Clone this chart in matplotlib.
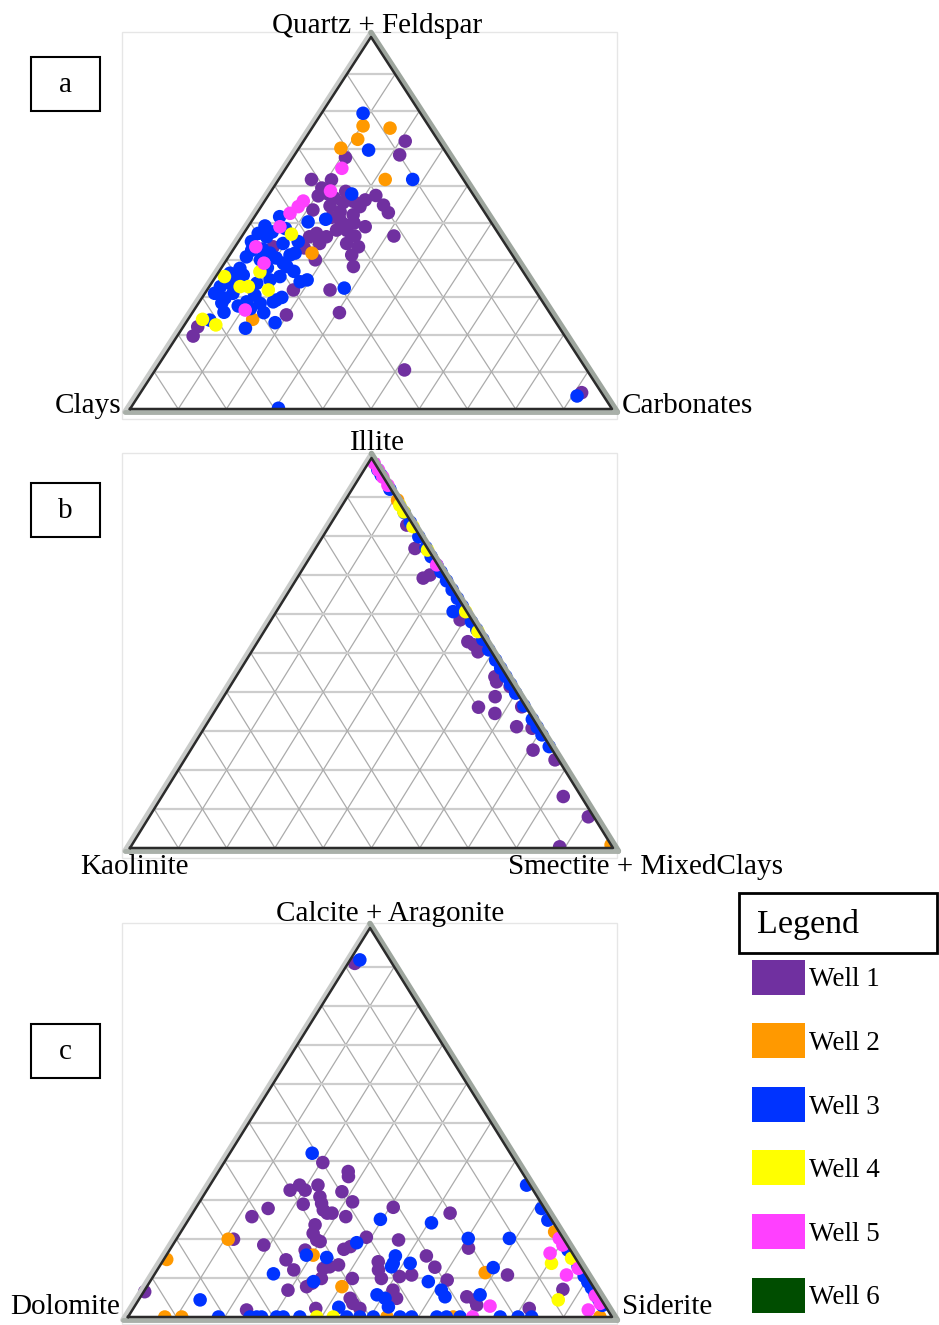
import matplotlib.pyplot as plt
from matplotlib.patches import Rectangle

plt.rcParams['font.family'] = ['Liberation Serif', 'DejaVu Serif']

W, H = 939, 1325

well_names = ['Well 1', 'Well 2', 'Well 3', 'Well 4', 'Well 5', 'Well 6']
well_colors = ['#7030a0', '#ff9900', '#0033ff', '#ffff00', '#ff40ff', '#004d00']

# each point: (top component %, right component %), left = 100 - top - right
# a: top = Quartz + Feldspar, right = Carbonates, left = Clays
a_well1 = [(72.0, 21.1), (68.3, 21.8), (67.6, 10.9), (61.7, 6.8), (61.6, 11.0), (59.4, 10.1),
           (57.8, 12.2), (56.7, 14.1), (57.3, 10.4), (57.4, 22.3), (56.2, 20.7), (54.4, 20.5),
           (52.2, 20.2), (54.8, 25.2), (52.8, 27.2), (53.5, 11.2), (54.6, 14.2), (53.0, 17.1),
           (49.5, 19.9), (47.2, 15.1), (46.3, 17.6), (48.1, 18.8), (50.8, 18.2), (49.0, 24.3),
           (46.5, 31.5), (46.5, 23.4), (46.3, 14.1), (44.5, 17.1), (44.5, 22.7), (43.6, 25.6),
           (43.6, 7.9), (43.3, 14.5), (40.1, 18.4), (41.4, 25.3), (38.3, 27.2), (32.0, 17.9),
           (32.0, 25.5), (25.3, 19.8), (25.9, 30.5), (22.1, 3.0), (19.6, 3.3), (10.5, 51.7),
           (4.4, 91.5), (58.5, 15.5), (55.5, 16.5), (51.5, 16.0), (50.0, 21.5), (48.0, 21.0),
           (55.8, 18.5)]
a_well2 = [(76.1, 10.3), (75.5, 16.2), (72.5, 11.0), (70.1, 8.7), (61.7, 22.1), (41.9, 16.8),
           (24.1, 13.4)]
a_well3 = [(79.5, 8.6), (69.6, 14.7), (61.7, 27.8), (57.8, 17.1), (51.7, 5.2), (50.3, 11.8),
           (51.0, 15.1), (49.2, 3.4), (47.6, 5.7), (47.2, 3.0), (46.3, 5.2), (45.0, 2.7),
           (44.5, 9.5), (45.0, 12.4), (42.7, 3.9), (41.9, 8.1), (40.1, 7.0), (40.9, 3.7),
           (40.6, 10.0), (41.4, 12.5), (41.9, 13.3), (39.2, 12.2), (38.3, 13.4), (37.8, 3.9),
           (36.0, 5.5), (34.7, 4.8), (33.8, 3.8), (32.9, 2.3), (31.1, 2.0), (33.8, 9.4),
           (34.7, 11.7), (35.6, 13.3), (34.2, 18.2), (34.7, 19.4), (32.5, 28.2), (30.6, 10.6),
           (29.3, 15.7), (30.0, 16.5), (29.8, 4.8), (31.1, 5.8), (28.8, 9.8), (28.4, 12.8),
           (28.8, 15.3), (28.5, 4.8), (27.7, 8.6), (25.9, 14.8), (23.2, 18.5), (21.7, 13.1),
           (23.9, 4.6), (3.5, 91.0), (0.2, 30.7), (48.5, 8.0), (43.0, 6.0), (38.0, 9.5),
           (36.5, 2.5), (37.0, 15.5), (27.0, 11.5), (26.0, 6.5)]
a_well4 = [(47.0, 10.0), (36.9, 8.5), (35.6, 1.8), (32.9, 6.4), (32.9, 8.1), (32.0, 12.7),
           (24.1, 3.0), (22.6, 6.5)]
a_well5 = [(64.7, 11.6), (58.6, 12.3), (55.9, 8.0), (54.4, 7.7), (52.6, 6.9), (49.0, 6.6),
           (43.6, 4.3), (39.2, 8.2), (26.6, 10.6)]

# b: top = Illite, right = Smectite + MixedClays, left = Kaolinite
b_well1 = [(82.8, 15.9), (76.8, 20.6), (70.0, 27.1), (69.2, 26.1), (58.5, 39.1), (52.9, 43.5),
           (52.1, 45.1), (51.6, 46.7), (50.3, 46.9), (43.9, 53.6), (42.6, 54.6), (41.4, 58.0),
           (38.8, 56.2), (36.1, 54.1), (34.5, 58.3), (36.2, 63.0), (31.1, 64.5), (30.7, 67.9),
           (25.1, 70.9), (22.6, 76.7), (13.2, 83.1), (8.0, 90.9), (0.3, 88.8)]
b_well2 = [(89.2, 10.8), (0.8, 99.2)]
b_well3 = [(97.0, 2.8), (95.6, 4.2), (92.0, 7.8), (86.0, 13.8), (83.5, 16.3), (79.8, 19.9),
           (77.0, 22.8), (74.7, 25.0), (72.5, 27.3), (70.8, 29.0), (68.5, 31.3), (66.2, 33.6),
           (64.0, 35.8), (62.0, 37.8), (60.6, 36.6), (58.0, 41.7), (56.0, 43.8), (53.5, 46.3),
           (50.8, 48.9), (48.2, 51.6), (46.1, 53.7), (44.0, 55.8), (42.0, 57.8), (39.7, 60.0),
           (36.5, 63.3), (33.0, 66.8), (31.0, 68.8), (29.0, 70.8), (26.0, 73.8)]
b_well4 = [(87.9, 11.9), (86.2, 13.6), (82.4, 17.4), (76.4, 23.4), (60.6, 39.2), (55.5, 44.3)]
b_well5 = [(98.7, 1.2), (96.9, 3.0), (95.1, 4.8), (93.0, 6.9), (72.6, 27.2)]

# c: top = Calcite + Aragonite, right = Siderite, left = Dolomite
c_well1 = [(90.9, 1.4), (39.7, 20.4), (37.4, 26.8), (36.1, 27.5), (32.6, 17.2), (33.9, 18.5),
           (32.6, 20.3), (33.9, 22.3), (30.9, 24.2), (29.2, 25.4), (27.5, 26.6), (26.7, 27.8),
           (26.7, 28.8), (32.2, 28.1), (29.6, 31.6), (29.0, 21.7), (27.9, 15.0), (25.8, 12.7),
           (28.2, 40.7), (26.7, 53.2), (25.8, 32.1), (23.7, 26.8), (21.5, 27.5), (19.8, 29.1),
           (19.4, 30.0), (20.0, 11.8), (18.5, 18.8), (20.5, 39.0), (17.4, 35.9), (18.1, 36.9),
           (19.8, 46.0), (17.7, 61.5), (17.2, 28.0), (14.7, 25.3), (12.1, 28.2), (12.5, 34.1),
           (12.9, 35.2), (13.4, 36.8), (9.9, 35.0), (9.9, 41.4), (14.2, 44.6), (12.1, 45.7),
           (9.9, 47.4), (10.4, 50.9), (10.8, 53.2), (15.7, 53.8), (12.8, 57.0), (9.5, 61.2),
           (10.8, 73.0), (7.1, 86.3), (5.2, 67.4), (4.4, 69.5), (3.1, 70.5), (7.8, 33.0),
           (8.7, 33.7), (6.9, 29.6), (4.8, 43.5), (3.5, 44.7), (2.2, 46.8), (6.9, 51.3),
           (4.8, 53.1), (6.5, 0.2), (1.8, 23.6), (2.2, 37.7), (2.2, 81.8)]
c_well2 = [(20.0, 10.7), (21.9, 77.2), (15.9, 30.3), (11.4, 68.1), (7.8, 40.3), (14.8, 0.6),
           (0.0, 7.6), (0.0, 11.1), (0.0, 53.5), (0.0, 67.2), (0.0, 97.5)]
c_well3 = [(91.8, 2.0), (42.1, 17.0), (25.1, 39.6), (24.2, 50.6), (19.1, 37.7), (20.2, 60.2),
           (20.2, 68.7), (33.9, 65.4), (27.9, 71.5), (24.9, 74.3), (15.9, 28.9), (15.3, 33.4),
           (11.1, 24.5), (15.7, 47.4), (13.8, 47.9), (12.9, 48.0), (13.8, 51.4), (9.1, 57.5),
           (6.9, 61.3), (5.2, 62.9), (12.7, 69.1), (5.7, 69.9), (9.1, 33.8), (2.5, 42.3),
           (5.7, 48.6), (4.8, 50.7), (2.6, 52.5), (4.4, 12.7), (17.2, 82.3), (15.5, 84.0),
           (13.0, 86.5), (10.5, 89.0), (9.0, 90.5), (7.5, 92.0), (6.0, 93.5), (4.5, 95.0),
           (3.0, 96.5), (0.0, 18.7), (0.0, 25.2), (0.0, 26.6), (0.0, 27.6), (0.0, 30.7),
           (0.0, 32.1), (0.0, 35.5), (0.0, 45.2), (0.0, 47.9), (0.0, 50.7), (0.0, 56.2),
           (0.0, 58.6), (0.0, 63.8), (0.0, 65.8), (0.0, 68.6), (0.0, 76.9), (0.0, 80.6),
           (0.0, 83.4)]
c_well4 = [(13.8, 80.6), (15.1, 84.1), (4.4, 86.7), (0.0, 39.0), (0.0, 42.4)]
c_well5 = [(20.2, 79.0), (18.5, 80.6), (16.4, 79.0), (12.5, 86.8), (10.8, 85.2), (5.5, 93.8),
           (3.5, 95.8), (1.8, 94.2), (2.8, 73.4), (0.0, 71.2)]

fig = plt.figure(figsize=(W / 100, H / 100), dpi=100)

# overlay in pixel units for labels, boxes and legend
ov = fig.add_axes([0, 0, 1, 1])
ov.set_xlim(0, W)
ov.set_ylim(H, 0)
ov.axis('off')


def ternary(left, right, base, apex, wells):
    ax = fig.add_axes([left / W, 1 - base / H, (right - left) / W, (base - apex) / H])
    ax.set_xlim(0, 1)
    ax.set_ylim(0, 1)
    ax.axis('off')
    for k in range(1, 10):
        f = k / 10
        ax.plot([f / 2, 1 - f / 2], [f, f], color='#cdcdcd', lw=1.6, zorder=1)
        ax.plot([f, f + (1 - f) / 2], [0, 1 - f], color='#ababab', lw=0.9, zorder=1)
        ax.plot([1 - f, (1 - f) / 2], [0, 1 - f], color='#ababab', lw=0.9, zorder=1)
    for pts, col in zip(wells, well_colors):
        tops = [p[0] / 100 for p in pts]
        xs = [p[1] / 100 + p[0] / 200 for p in pts]
        ax.scatter(xs, tops, s=95, color=col, edgecolors='none', zorder=3)
    # soft shadow outside the outline
    dx = 3 / (right - left)
    dy = 3 / (base - apex)
    kw = dict(clip_on=False, zorder=4, solid_capstyle='round')
    ax.plot([-1.8 * dx, 0.5], [-dy, 1 + 1.5 * dy], color='#c9cbc9', lw=3.5, **kw)
    ax.plot([0.5, 1 + 1.8 * dx], [1 + 1.5 * dy, -dy], color='#9ea69e', lw=4, **kw)
    ax.plot([-1.8 * dx, 1 + 1.8 * dx], [-dy, -dy], color='#a9b0a9', lw=3.5, **kw)
    ax.plot([0, 1, 0.5, 0], [0, 0, 1, 0], color='#2b2b2b', lw=1.8, clip_on=False, zorder=5)
    return ax


# faint frames around each plot area
for top, bottom in [(32, 419), (453, 858), (923, 1324)]:
    ov.add_patch(Rectangle((122, top), 495, bottom - top, fill=False, ec='#e6e6e6', lw=1))

ternary(130, 612, 409, 37, [a_well1, a_well2, a_well3, a_well4, a_well5])
ternary(130, 613, 848, 458, [b_well1, b_well2, b_well3, b_well4, b_well5])
ternary(128, 612, 1317, 928, [c_well1, c_well2, c_well3, c_well4, c_well5])

fs = 21
ov.text(377, 33, 'Quartz + Feldspar', ha='center', va='baseline', fontsize=fs)
ov.text(121, 413, 'Clays', ha='right', va='baseline', fontsize=fs)
ov.text(622, 413, 'Carbonates', ha='left', va='baseline', fontsize=fs)
ov.text(377, 450, 'Illite', ha='center', va='baseline', fontsize=fs)
ov.text(80, 874, 'Kaolinite', ha='left', va='baseline', fontsize=fs)
ov.text(508, 874, 'Smectite + MixedClays', ha='left', va='baseline', fontsize=fs)
ov.text(390, 921, 'Calcite + Aragonite', ha='center', va='baseline', fontsize=fs)
ov.text(10, 1314, 'Dolomite', ha='left', va='baseline', fontsize=fs)
ov.text(622, 1314, 'Siderite', ha='left', va='baseline', fontsize=fs)

# panel letters
for letter, top in [('a', 57), ('b', 483), ('c', 1024)]:
    ov.add_patch(Rectangle((31, top), 69, 54, fill=False, ec='black', lw=1.5))
    ov.text(65.5, top + 35, letter, ha='center', va='baseline', fontsize=fs)

# legend
ov.add_patch(Rectangle((739, 893), 198, 60, fill=False, ec='black', lw=2))
ov.text(757, 933, 'Legend', ha='left', va='baseline', fontsize=24.5)
for i, (name, col) in enumerate(zip(well_names, well_colors)):
    y0 = 959.5 + i * 63.6
    ov.add_patch(Rectangle((752, y0), 53, 35, color=col, lw=0))
    ov.text(809, y0 + 27, name, ha='left', va='baseline', fontsize=19.5)

fig.savefig('out.png', dpi=100)
